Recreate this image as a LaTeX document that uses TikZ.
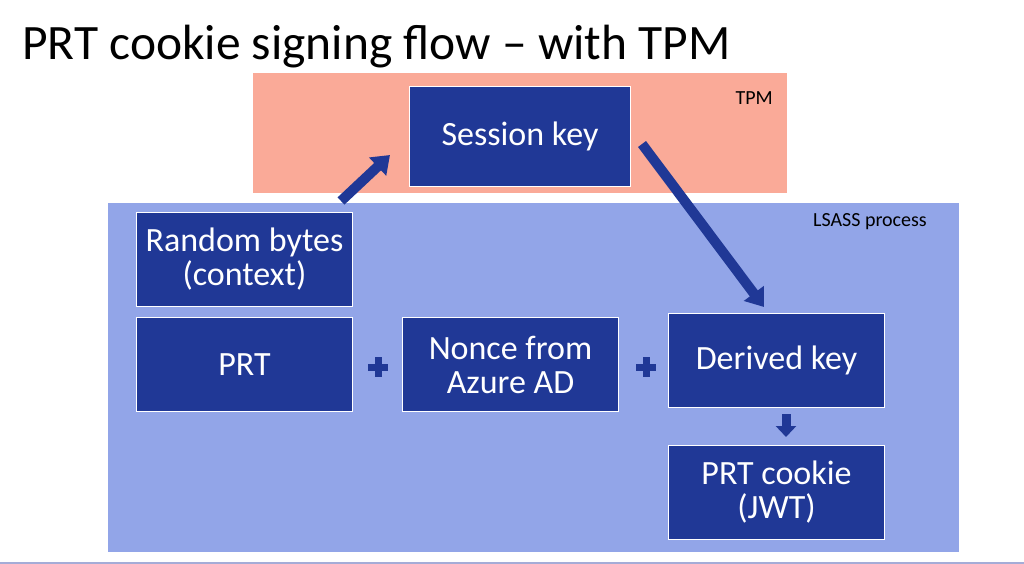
\documentclass[tikz,border=0pt]{standalone}
\usepackage{fontspec}
\setmainfont{Carlito}
\usetikzlibrary{arrows.meta}
\definecolor{tpmbg}{RGB}{250,170,152}
\definecolor{lsassbg}{RGB}{146,165,232}
\definecolor{boxblue}{RGB}{32,56,150}
\definecolor{footline}{RGB}{165,172,215}
\tikzset{
  bluebox/.style={fill=boxblue, draw=white, line width=1pt, text=white, align=center,
    minimum width=216pt, minimum height=94pt, inner sep=0pt, font=\fontsize{34}{34}\selectfont, anchor=north west},
  blockarrow/.style={draw=boxblue, line width=10pt, -{Triangle[width=24pt,length=17pt]}},
  plussign/.style={minimum size=20pt, inner sep=0pt, path picture={
      \fill[boxblue] ([xshift=-3.5pt]path picture bounding box.north) rectangle ([xshift=3.5pt]path picture bounding box.south);
      \fill[boxblue] ([yshift=-3.5pt]path picture bounding box.west) rectangle ([yshift=3.5pt]path picture bounding box.east);}},
  smalllabel/.style={font=\fontsize{20}{22}\selectfont, inner sep=0pt, anchor=east}
}
\begin{document}
\begin{tikzpicture}[x=1pt,y=-1pt]
\useasboundingbox (0,0) rectangle (1024,564);
\fill[white] (0,0) rectangle (1024,564);
\fill[footline] (0,562) rectangle (1024,564);
\node[anchor=base west, inner sep=0pt, font=\fontsize{49.5}{52}\selectfont] (title) at (22,60) {PRT cookie signing flow – with TPM};
\fill[tpmbg] (253,73) rectangle (787,193);
\fill[lsassbg] (108,203) rectangle (959,552);
\node[smalllabel] (tpmlabel) at (773,98) {TPM};
\node[smalllabel] (lsasslabel) at (927,222) {LSASS process};
\node[bluebox, minimum width=221pt, minimum height=100pt] (session) at (409,86) {Session key};
\node[bluebox] (random) at (136,212) {Random bytes\\(context)};
\node[bluebox] (prt) at (136,317) {PRT};
\node[bluebox] (nonce) at (402,317) {Nonce from\\Azure AD};
\node[bluebox] (derived) at (668,313) {Derived key};
\node[bluebox] (cookie) at (668,445) {PRT cookie\\(JWT)};
\node[plussign] (plus1) at (378,367) {};
\node[plussign] (plus2) at (646,367) {};
\coordinate (a1s) at (341,201);
\coordinate (a1e) at (390,155);
\coordinate (a2s) at (642,144);
\coordinate (a2e) at (764,307);
\draw[blockarrow] (a1s) -- (a1e);
\draw[blockarrow] (a2s) -- (a2e);
\coordinate (a3s) at (786,414);
\coordinate (a3e) at (786,437);
\draw[draw=boxblue, line width=9pt, -{Triangle[width=20pt,length=11pt]}] (a3s) -- (a3e);
\end{tikzpicture}
\end{document}
